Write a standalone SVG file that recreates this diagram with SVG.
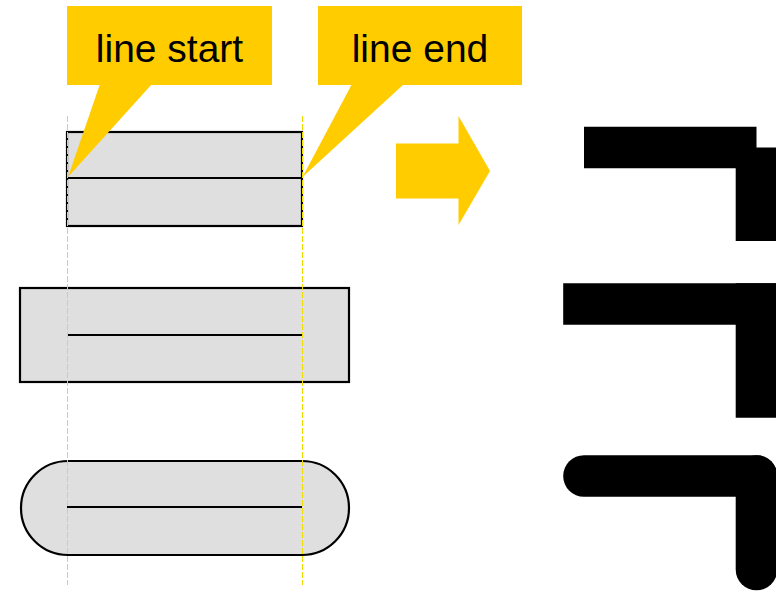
<svg xmlns="http://www.w3.org/2000/svg" width="776" height="591" viewBox="0 0 776 591">
<style>
.box{fill:#dfdfdf;stroke:#000;stroke-width:2.2}
.inner{stroke:#000;stroke-width:2.2;fill:none}
.guide{stroke:#f0dc00;stroke-width:1;stroke-dasharray:6,2;fill:none}
.callout{fill:#ffcc00;stroke:none}
.label{font-family:"Liberation Sans",Arial,sans-serif;font-size:39px;fill:#000;text-anchor:middle}
.cap{stroke:#000;stroke-width:41.6;fill:none}
</style>
<rect width="776" height="591" fill="#fff"/>
<g id="box-butt">
<rect class="box" x="67" y="132" width="235" height="94"/>
<line class="inner" x1="67" y1="178" x2="302" y2="178"/>
</g>
<g id="box-square">
<rect class="box" x="20" y="288" width="329" height="94"/>
<line class="inner" x1="67" y1="335" x2="302" y2="335"/>
</g>
<g id="box-round">
<rect class="box" x="21" y="461" width="328" height="94" rx="47" ry="47"/>
<line class="inner" x1="67" y1="507" x2="302" y2="507"/>
</g>
<g id="guides">
<line class="guide" x1="67.5" y1="116" x2="67.5" y2="585"/>
<line class="guide" x1="302.5" y1="116" x2="302.5" y2="585"/>
</g>
<g id="callout-start">
<rect class="callout" x="67" y="6" width="205" height="79"/>
<polygon class="callout" points="100,84 152,84 68,177"/>
<text class="label" x="169.5" y="62">line start</text>
</g>
<g id="callout-end">
<rect class="callout" x="318" y="6" width="204" height="79"/>
<polygon class="callout" points="352,84 404,84 302.5,177"/>
<text class="label" x="420" y="62">line end</text>
</g>
<g id="arrow">
<polygon class="callout" points="396,143.5 458.5,143.5 458.5,116 490,171 458.5,225 458.5,198.5 396,198.5"/>
</g>
<g id="cap-butt">
<line class="cap" x1="584" y1="147.5" x2="756.5" y2="147.5" stroke-linecap="butt"/>
<line class="cap" x1="756.5" y1="147.5" x2="756.5" y2="241" stroke-linecap="butt"/>
</g>
<g id="cap-square">
<line class="cap" x1="584" y1="304" x2="756.5" y2="304" stroke-linecap="square"/>
<line class="cap" x1="756.5" y1="304" x2="756.5" y2="397" stroke-linecap="square"/>
</g>
<g id="cap-round">
<line class="cap" x1="584" y1="476" x2="756.5" y2="476" stroke-linecap="round"/>
<line class="cap" x1="756.5" y1="476" x2="756.5" y2="569.5" stroke-linecap="round"/>
</g>
</svg>
